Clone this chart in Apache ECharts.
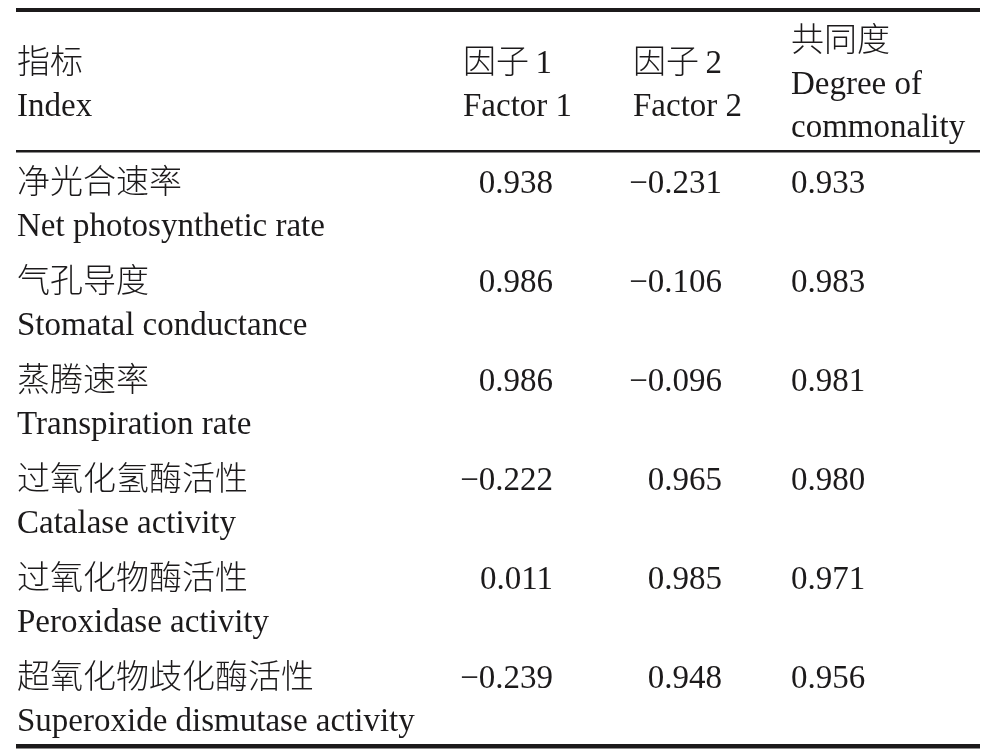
<!DOCTYPE html>
<html>
<head>
<meta charset="utf-8">
<script src="https://cdn.jsdelivr.net/npm/echarts@6/dist/echarts.min.js"></script>
<style>
  html, body { margin: 0; padding: 0; background: #fff; }
  #main { width: 984px; height: 752px; }
</style>
</head>
<body>
<div id="main"></div>
<script>
// table content
const headIndex = ['指标', 'Index'];
const headFactor1 = ['因子\u20091', 'Factor 1'];
const headFactor2 = ['因子\u20092', 'Factor 2'];
const headCommon = ['共同度', 'Degree of', 'commonality'];

const indexCn = ['净光合速率', '气孔导度', '蒸腾速率', '过氧化氢酶活性', '过氧化物酶活性', '超氧化物歧化酶活性'];
const indexEn = ['Net photosynthetic rate', 'Stomatal conductance', 'Transpiration rate',
  'Catalase activity', 'Peroxidase activity', 'Superoxide dismutase activity'];
const factor1 = ['0.938', '0.986', '0.986', '−0.222', '0.011', '−0.239'];
const factor2 = ['−0.231', '−0.106', '−0.096', '0.965', '0.985', '0.948'];
const commonality = ['0.933', '0.983', '0.981', '0.980', '0.971', '0.956'];

const rows = ['header'].concat(indexCn);

const FONT = '"Liberation Serif", "Times New Roman", "Noto Sans CJK SC", serif';
const INK = '#1c1a1b';
const SIZE = 33;

// column anchors (x in px)
const colX = { index: 17, f1: 553, f1h: 463, f2: 722, f2h: 633, com: 791 };

function txt(x, y, s, align) {
  return {
    type: 'text',
    style: { x: x, y: y, text: s, font: '300 ' + SIZE + 'px ' + FONT, fill: INK,
      textAlign: align || 'left', textVerticalAlign: 'middle' }
  };
}

function renderRow(params, api) {
  const i = params.dataIndex;
  const cy = api.coord([0, i])[1] + 4;
  const px = (v) => api.coord([v, i])[0];
  const kids = [];
  if (i === 0) {
    kids.push(txt(px(colX.index), cy - 42, headIndex[0]));
    kids.push(txt(px(colX.index), cy + 1, headIndex[1]));
    kids.push(txt(px(colX.f1h), cy - 42, headFactor1[0]));
    kids.push(txt(px(colX.f1h), cy + 1, headFactor1[1]));
    kids.push(txt(px(colX.f2h), cy - 42, headFactor2[0]));
    kids.push(txt(px(colX.f2h), cy + 1, headFactor2[1]));
    kids.push(txt(px(colX.com), cy - 64, headCommon[0]));
    kids.push(txt(px(colX.com), cy - 21, headCommon[1]));
    kids.push(txt(px(colX.com), cy + 22, headCommon[2]));
  } else {
    const k = i - 1;
    kids.push(txt(px(colX.index), cy - 21, indexCn[k]));
    kids.push(txt(px(colX.index), cy + 22, indexEn[k]));
    kids.push(txt(px(colX.f1), cy - 21, factor1[k], 'right'));
    kids.push(txt(px(colX.f2), cy - 21, factor2[k], 'right'));
    kids.push(txt(px(colX.com), cy - 21, commonality[k]));
  }
  return { type: 'group', children: kids };
}

const chart = echarts.init(document.getElementById('main'));
chart.setOption({
  animation: false,
  grid: { left: 0, right: 0, top: 53, bottom: 6 },
  xAxis: { type: 'value', min: 0, max: 984, show: false },
  yAxis: { type: 'category', data: rows, inverse: true, show: false },
  series: [{
    type: 'custom',
    clip: false,
    renderItem: renderRow,
    data: rows.map((r, i) => [0, i])
  }],
  graphic: [
    { type: 'rect', shape: { x: 16, y: 8, width: 964, height: 4 }, style: { fill: INK } },
    { type: 'rect', shape: { x: 16, y: 150, width: 964, height: 2.5 }, style: { fill: INK } },
    { type: 'rect', shape: { x: 16, y: 744, width: 964, height: 4.5 }, style: { fill: INK } }
  ]
});
</script>
</body>
</html>
